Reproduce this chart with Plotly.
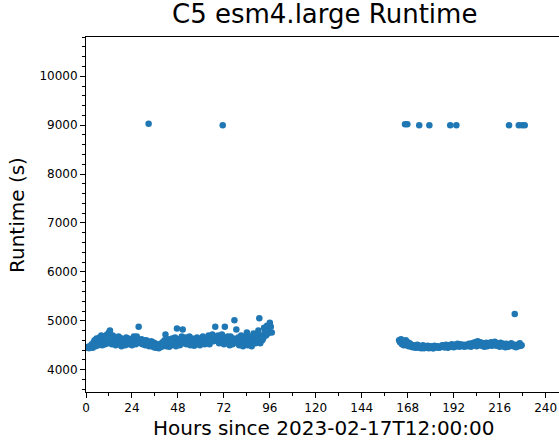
import plotly.graph_objects as go

# ---- data (hours since 2023-02-17T12:00:00, runtime in seconds) ----
seg1_start = 0.5
seg1_step = 0.5
seg1_runtime = [
    4450, 4470, 4440, 4480, 4460, 4520, 4450, 4560, 4600, 4480,
    4640, 4520, 4500, 4660, 4580, 4700, 4500, 4620, 4680, 4520,
    4600, 4720, 4540, 4760, 4800, 4620, 4520, 4700, 4650, 4560,
    4500, 4620, 4600, 4680, 4520, 4650, 4480, 4600, 4620, 4540,
    4500, 4660, 4580, 4640, 4520, 4620, 4600, 4500, 4540, 4680,
    4620, 4520, 4680, 4580, 4880, 4600, 4540, 4620, 4520, 4600,
    4580, 4500, 4600, 4520, 4560, 4480, 4500, 4580, 4480, 4560,
    4460, 4540, 4450, 4520, 4500, 4440, 4460, 4530, 4470, 4560,
    4500, 4600, 4720, 4480, 4540, 4620, 4470, 4580, 4500, 4640,
    4600, 4520, 4660, 4480, 4840, 4540, 4620, 4500, 4580, 4680,
    4820, 4540, 4600, 4660, 4520, 4620, 4580, 4680, 4500, 4600,
    4640, 4540, 4490, 4600, 4560, 4660, 4600, 4520, 4500, 4620,
    4580, 4680, 4640, 4520, 4560, 4620, 4600, 4700, 4520, 4640,
    4620, 4720, 4580, 4680, 4880, 4600, 4620, 4700, 4540, 4660,
    4640, 4720, 4600, 4520, 4880, 4620, 4540, 4680, 4620, 4500,
    4680, 4600, 4520, 4640, 5010, 4600, 4820, 4540, 4660, 4500,
    4580, 4700, 4620, 4480, 4540, 4660, 4600, 4760, 4500, 4640,
    4680, 4540, 4480, 4620, 4740, 4560, 4540, 4700, 4640, 4800,
    5050, 4540, 4700, 4600, 4640, 4860, 4780, 4700, 4900, 4740,
    4820, 4960, 4880, 4760,
]

seg2_start = 163.5
seg2_step = 0.5
seg2_runtime = [
    4600, 4560, 4620, 4520, 4580, 4500, 4540, 4600, 4500, 4560,
    4480, 4540, 4520, 4470, 4460, 4500, 4490, 4450, 4470, 4510,
    4450, 4490, 4480, 4440, 4460, 4500, 4440, 4480, 4470, 4450,
    4490, 4440, 4450, 4480, 4470, 4440, 4440, 4490, 4460, 4480,
    4480, 4450, 4450, 4470, 4470, 4500, 4490, 4460, 4460, 4510,
    4480, 4450, 4500, 4470, 4470, 4520, 4490, 4460, 4510, 4480,
    4480, 4530, 4500, 4470, 4520, 4490, 4490, 4510, 4470, 4500,
    4510, 4480, 4490, 4530, 4520, 4470, 4540, 4500, 4500, 4560,
    4550, 4480, 4580, 4510, 4520, 4560, 4490, 4540, 4530, 4470,
    4510, 4550, 4480, 4520, 4540, 4500, 4560, 4490, 4510, 4550,
    4570, 4500, 4490, 4540, 4520, 4470, 4550, 4500, 4480, 4530,
    4510, 4460, 4530, 4490, 4470, 4510, 4500, 4540, 4520, 4480,
    4490, 4510, 4460, 4500, 4510, 4480, 4540, 4490, 4500,
]

outlier_hours = [32.7, 71.4, 166.6, 167.8, 174.0, 179.3, 190.2, 193.4,
                 220.9, 226.0, 227.7, 229.1, 223.9]
outlier_runtime = [9030, 9000, 9020, 9020, 9000, 9000, 9000, 9000,
                   9000, 9000, 9000, 9000, 5140]

x_ticks = [0, 24, 48, 72, 96, 120, 144, 168, 192, 216, 240]
y_ticks = [4000, 5000, 6000, 7000, 8000, 9000, 10000]

# ---- assemble ----
hours = ([seg1_start + seg1_step * i for i in range(len(seg1_runtime))]
         + [seg2_start + seg2_step * i for i in range(len(seg2_runtime))]
         + outlier_hours)
runtime = seg1_runtime + seg2_runtime + outlier_runtime

FONT = "DejaVu Sans"
BLUE = "#1f77b4"

fig = go.Figure()
fig.add_trace(go.Scatter(
    x=hours, y=runtime, mode="markers",
    marker=dict(color=BLUE, size=6.5, line=dict(width=0)),
    showlegend=False, hoverinfo="x+y", cliponaxis=True,
))

fig.update_layout(
    width=559, height=443,
    margin=dict(l=86, r=0, t=37, b=51),
    paper_bgcolor="white", plot_bgcolor="white",
    font=dict(family=FONT, color="black", size=12),
    xaxis=dict(
        range=[0, 247.0], tickvals=x_ticks, ticktext=[str(t) for t in x_ticks],
        showgrid=False, zeroline=False, showline=True, linecolor="black",
        linewidth=1, mirror=True, ticks="outside", ticklen=5, tickwidth=1,
        tickcolor="black", tickfont=dict(size=12, family=FONT, color="black"),
        ticklabeloverflow="allow",
        minor=dict(dtick=12, tick0=0, ticks="outside", ticklen=3,
                   tickwidth=1, tickcolor="black", showgrid=False),
    ),
    yaxis=dict(
        range=[3544, 10802], tickvals=y_ticks, ticktext=[str(t) for t in y_ticks],
        showgrid=False, zeroline=False, showline=True, linecolor="black",
        linewidth=1, mirror=False, ticks="outside", ticklen=5, tickwidth=1,
        tickcolor="black", tickfont=dict(size=12, family=FONT, color="black"),
        minor=dict(dtick=200, tick0=0, ticks="outside", ticklen=3,
                   tickwidth=1, tickcolor="black", showgrid=False),
    ),
    annotations=[
        dict(text="C5 esm4.large Runtime", xref="paper", yref="paper",
             x=(324 - 86) / 473, y=1 + (37 - 14) / 355, xanchor="center",
             yanchor="middle", showarrow=False,
             font=dict(family=FONT, size=26, color="black")),
        dict(text="Hours since 2023-02-17T12:00:00", xref="paper", yref="paper",
             x=(324 - 86) / 473, y=-(428 - 392) / 355, xanchor="center",
             yanchor="middle", showarrow=False,
             font=dict(family=FONT, size=20, color="black")),
        dict(text="Runtime (s)", xref="paper", yref="paper",
             x=(17 - 86) / 473, y=0.4986, xanchor="center", yanchor="middle",
             textangle=-90, showarrow=False,
             font=dict(family=FONT, size=20, color="black")),
    ],
)

fig.write_html("out.html")
